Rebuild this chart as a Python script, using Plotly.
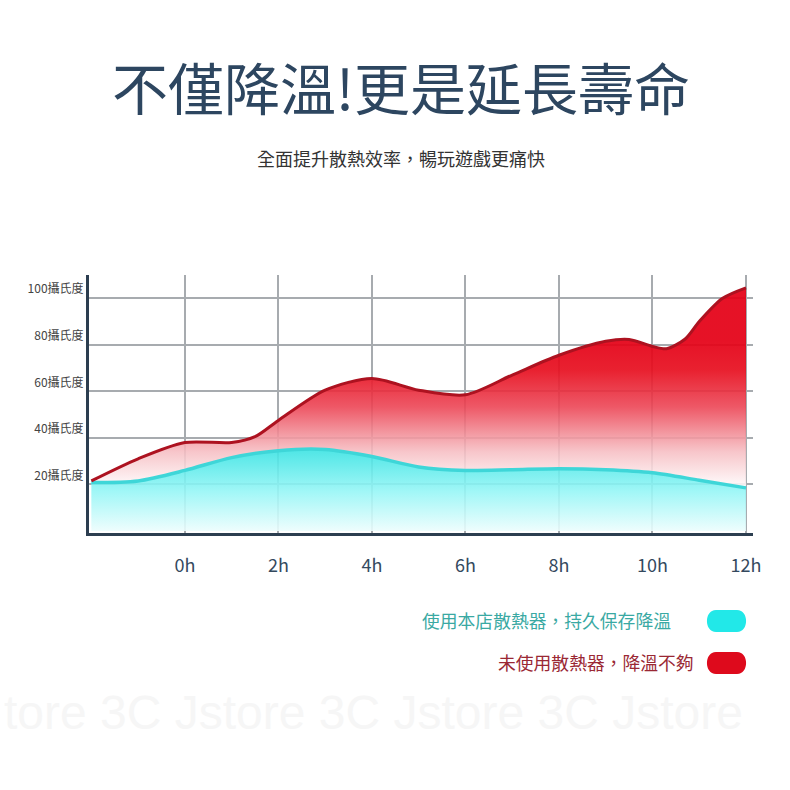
import plotly.graph_objects as go

# ---------------- data ----------------
hours_red = [-2, -1, 0, 1, 1.5, 2, 3, 4, 5, 6, 7, 8, 9, 9.5, 10, 10.3, 10.7, 11, 11.5, 12]
temp_red = [21.5, 31, 38, 38, 40.5, 47.5, 60.5, 65.5, 60.5, 58.5, 67, 75.5, 81.5, 82.3, 79.3, 78.3, 82.5, 90, 100, 104.5]

hours_cyan = [-2, -1, 0, 1, 2, 3, 4, 5, 6, 7, 8, 9, 10, 11, 12]
temp_cyan = [20.8, 21.5, 26, 31.5, 34.5, 35, 32, 27.5, 26, 26.3, 26.7, 26.3, 25, 21.8, 18.5]

x_tick_vals = [0, 2, 4, 6, 8, 10, 12]
x_tick_text = ["0h", "2h", "4h", "6h", "8h", "10h", "12h"]
y_tick_vals = [20, 40, 60, 80, 100]
y_tick_text = ["20攝氏度", "40攝氏度", "60攝氏度", "80攝氏度", "100攝氏度"]

title_text = "不僅降溫!更是延長壽命"
subtitle_text = "全面提升散熱效率，暢玩遊戲更痛快"
legend_cyan = "使用本店散熱器，持久保存降溫"
legend_red = "未使用散熱器，降溫不夠"
watermark = "tore 3C Jstore 3C Jstore 3C Jstore"

FONT = "Noto Sans CJK TC, Noto Sans, sans-serif"
W = H = 790

fig = go.Figure()

# cyan filled area
fig.add_trace(go.Scatter(
    x=hours_cyan, y=temp_cyan, mode="lines",
    line=dict(shape="spline", smoothing=0.8, width=0, color="rgba(0,0,0,0)"),
    fill="tozeroy",
    fillgradient=dict(type="vertical", start=0, stop=34,
                      colorscale=[[0, "rgba(236,253,253,0.9)"], [0.5, "rgba(150,246,246,0.9)"],
                                  [1, "rgba(64,228,228,0.9)"]]),
    hoverinfo="skip", showlegend=False))

# red filled area between curves
fig.add_trace(go.Scatter(
    x=hours_red, y=temp_red, mode="lines",
    line=dict(shape="spline", smoothing=0.8, width=0, color="rgba(0,0,0,0)"),
    fill="tonexty",
    fillgradient=dict(type="vertical", start=18, stop=82,
                      colorscale=[[0, "rgba(255,255,255,0.88)"], [0.25, "rgba(246,190,195,0.88)"],
                                  [0.55, "rgba(236,70,86,0.9)"], [0.8, "rgba(231,16,32,0.93)"],
                                  [1, "rgba(228,0,22,0.93)"]]),
    hoverinfo="skip", showlegend=False))

# lines
fig.add_trace(go.Scatter(
    x=hours_cyan, y=temp_cyan, mode="lines",
    line=dict(shape="spline", smoothing=0.8, width=3.5, color="#3ed6d8"),
    hoverinfo="skip", showlegend=False))
fig.add_trace(go.Scatter(
    x=hours_red, y=temp_red, mode="lines",
    line=dict(shape="spline", smoothing=0.8, width=3, color="#ad1220"),
    hoverinfo="skip", showlegend=False))

x0, x1 = 89 / W, 753 / W
y0, y1 = 1 - 533 / H, 1 - 275 / H

fig.update_layout(
    width=W, height=H, margin=dict(l=0, r=0, t=0, b=0, autoexpand=False),
    paper_bgcolor="white", plot_bgcolor="white",
    font=dict(family=FONT),
    xaxis=dict(domain=[x0, x1], range=[-2.05, 12.15], tickvals=x_tick_vals, ticktext=x_tick_text,
               showgrid=True, gridcolor="#a7abaf", gridwidth=1.5, zeroline=False,
               showline=True, linecolor="#2c3e50", linewidth=3, automargin=False,
               ticks="", ticklabelstandoff=14,
               tickfont=dict(size=18, color="#34495e", family=FONT), fixedrange=True),
    yaxis=dict(domain=[y0, y1], range=[-0.9, 110], tickvals=y_tick_vals, ticktext=y_tick_text,
               showgrid=True, gridcolor="#a7abaf", gridwidth=1.5, zeroline=False,
               showline=True, linecolor="#2c3e50", linewidth=3, automargin=False,
               ticks="", ticklabelstandoff=0, ticklabelshift=-9,
               tickfont=dict(size=12, color="#444444", family=FONT), fixedrange=True),
)

annotations = [
    dict(text=title_text, x=0.508, y=1 - 85 / H, xref="paper", yref="paper",
         showarrow=False, font=dict(size=56, color="#2d4660", family=FONT),
         xanchor="center", yanchor="middle"),
    dict(text=subtitle_text, x=0.508, y=1 - 158 / H, xref="paper", yref="paper",
         showarrow=False, font=dict(size=18, color="#333333", family=FONT),
         xanchor="center", yanchor="middle"),
    dict(text=legend_cyan, x=673 / W, y=1 - 620 / H, xref="paper", yref="paper",
         showarrow=False, font=dict(size=17.8, color="#3aa9a3", family=FONT),
         xanchor="right", yanchor="middle"),
    dict(text=legend_red, x=696 / W, y=1 - 662 / H, xref="paper", yref="paper",
         showarrow=False, font=dict(size=17.8, color="#9a2834", family=FONT),
         xanchor="right", yanchor="middle"),
    dict(text=watermark, x=2 / W, y=1 - 712 / H, xref="paper", yref="paper",
         showarrow=False, font=dict(size=48, color="#f6f6f6", family="Liberation Sans, Arial"),
         xanchor="left", yanchor="middle"),
]
fig.update_layout(annotations=annotations)


def pill(xl, xr, yt, yb, color):
    # pixel coords -> paper
    r = (yb - yt) / 2
    def px(v):
        return v / W
    def py(v):
        return 1 - v / H
    path = (f"M {px(xl + r)},{py(yt)} L {px(xr - r)},{py(yt)} "
            f"C {px(xr + r * 0.1)},{py(yt)} {px(xr + r * 0.1)},{py(yb)} {px(xr - r)},{py(yb)} "
            f"L {px(xl + r)},{py(yb)} "
            f"C {px(xl - r * 0.1)},{py(yb)} {px(xl - r * 0.1)},{py(yt)} {px(xl + r)},{py(yt)} Z")
    return dict(type="path", path=path, xref="paper", yref="paper",
                fillcolor=color, line=dict(width=0))


fig.update_layout(shapes=[
    pill(705, 748, 610, 632, "#22e8e8"),
    pill(705, 748, 652, 674, "#de0a1c"),
])

fig.write_html("out.html")
